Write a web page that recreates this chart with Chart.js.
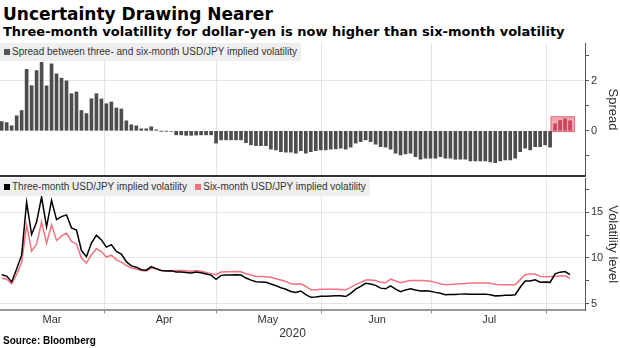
<!DOCTYPE html>
<html>
<head>
<meta charset="utf-8">
<script src="https://cdn.jsdelivr.net/npm/chart.js@4/dist/chart.umd.min.js"></script>
<style>
  body { margin: 0; width: 620px; height: 348px; background: #fff; position: relative; overflow: hidden;
         font-family: 'Liberation Sans', Arial, sans-serif; color: #000; }
  #title { position: absolute; left: 3px; top: 4px; font-family: 'DejaVu Sans', sans-serif; font-size: 17px; font-weight: bold; }
  #subtitle { position: absolute; left: 3px; top: 24px; font-family: 'DejaVu Sans', sans-serif; font-size: 13px; font-weight: bold; }
  #topWrap { position: absolute; left: 0; top: 40px; width: 620px; height: 138px; }
  #bottomWrap { position: absolute; left: 0; top: 178px; width: 620px; height: 163px; }
  .legend { position: absolute; left: 0; background: #efefef; font-size: 10px; color: #333;
            padding: 3px 4px 4px 4px; white-space: nowrap; }
  .sq { display: inline-block; width: 6px; height: 6px; margin-right: 2px; }
  #source { position: absolute; left: 3px; top: 335px; font-size: 10px; font-weight: bold; }
</style>
</head>
<body>
<div id="title">Uncertainty Drawing Nearer</div>
<div id="subtitle">Three-month volatillity for dollar-yen is now higher than six-month volatility</div>
<div id="topWrap"><canvas id="spreadChart"></canvas></div>
<div id="bottomWrap"><canvas id="volChart"></canvas></div>
<div class="legend" style="top:43px"><span class="sq" style="background:#555"></span>Spread between three- and six-month USD/JPY implied volatility</div>
<div class="legend" style="top:178px"><span class="sq" style="background:#000"></span>Three-month USD/JPY implied volatility&nbsp;&nbsp;&nbsp;<span class="sq" style="background:#f4727c"></span>Six-month USD/JPY implied volatility</div>
<div id="source">Source: Bloomberg</div>
<script>
// daily values, one per trading day (early Mar to early Aug 2020)
const spread = [
  0.37, 0.33, 0.20, 0.60, 0.81, 2.45, 1.80, 2.40, 2.73, 1.79,
  2.67, 2.27, 2.10, 1.99, 1.48, 1.55, 0.81, 0.69, 1.28, 1.48,
  1.27, 1.08, 1.15, 0.91, 0.87, 0.40, 0.24, 0.20, 0.08, 0.08,
  0.16, 0.04, -0.01, -0.01, -0.02, -0.16, -0.16, -0.18, -0.18, -0.17,
  -0.16, -0.16, -0.16, -0.49, -0.36, -0.36, -0.36, -0.36, -0.36, -0.47,
  -0.56, -0.59, -0.59, -0.59, -0.73, -0.76, -0.83, -0.85, -0.85, -0.89,
  -0.79, -0.89, -0.83, -0.79, -0.76, -0.76, -0.73, -0.72, -0.69, -0.73,
  -0.65, -0.49, -0.43, -0.36, -0.43, -0.53, -0.63, -0.65, -0.73, -0.89,
  -0.96, -0.92, -0.89, -1.03, -1.13, -1.09, -1.09, -1.09, -1.03, -1.09,
  -1.09, -1.13, -1.13, -1.13, -1.20, -1.20, -1.20, -1.20, -1.24, -1.27,
  -1.20, -1.16, -1.16, -1.09, -0.83, -0.69, -0.76, -0.63, -0.63, -0.56,
  -0.65, 0.28, 0.41, 0.48, 0.40
];
const threeMonth = [
  8.17, 8.03, 7.40, 8.80, 10.31, 16.05, 12.55, 13.90, 16.63, 13.39,
  16.27, 14.17, 14.50, 14.69, 13.28, 13.05, 10.81, 10.14, 11.63, 12.48,
  11.97, 11.18, 11.45, 10.71, 10.42, 9.60, 9.14, 9.00, 8.73, 8.68,
  9.06, 8.84, 8.64, 8.59, 8.60, 8.47, 8.47, 8.42, 8.38, 8.48,
  8.39, 8.26, 8.14, 7.69, 8.11, 8.14, 8.14, 8.18, 8.14, 7.82,
  7.59, 7.41, 7.39, 7.36, 7.17, 6.99, 6.77, 6.60, 6.35, 6.26,
  6.41, 6.01, 5.72, 5.76, 5.84, 5.84, 5.87, 5.88, 5.89, 5.81,
  6.15, 6.61, 6.92, 7.24, 7.17, 7.02, 6.72, 6.65, 6.97, 6.61,
  6.34, 6.53, 6.66, 6.52, 6.42, 6.43, 6.39, 6.26, 6.17, 6.01,
  6.03, 6.04, 6.07, 6.09, 6.07, 6.07, 6.07, 6.07, 6.01, 5.88,
  5.90, 5.94, 5.94, 6.01, 6.82, 7.49, 7.49, 7.62, 7.37, 7.39,
  7.35, 8.28, 8.46, 8.53, 8.20
];
const sixMonth = [
  7.80, 7.70, 7.20, 8.20, 9.50, 13.60, 10.75, 11.50, 13.90, 11.60,
  13.60, 11.90, 12.40, 12.70, 11.80, 11.50, 10.00, 9.45, 10.35, 11.00,
  10.70, 10.10, 10.30, 9.80, 9.55, 9.20, 8.90, 8.80, 8.65, 8.60,
  8.90, 8.80, 8.65, 8.60, 8.62, 8.63, 8.63, 8.60, 8.56, 8.65,
  8.55, 8.42, 8.30, 8.18, 8.47, 8.50, 8.50, 8.54, 8.50, 8.29,
  8.15, 8.00, 7.98, 7.95, 7.90, 7.75, 7.60, 7.45, 7.20, 7.15,
  7.20, 6.90, 6.55, 6.55, 6.60, 6.60, 6.60, 6.60, 6.58, 6.54,
  6.80, 7.10, 7.35, 7.60, 7.60, 7.55, 7.35, 7.30, 7.70, 7.50,
  7.30, 7.45, 7.55, 7.55, 7.55, 7.52, 7.48, 7.35, 7.20, 7.10,
  7.12, 7.17, 7.20, 7.22, 7.27, 7.27, 7.27, 7.27, 7.25, 7.15,
  7.10, 7.10, 7.10, 7.10, 7.65, 8.18, 8.25, 8.25, 8.00, 7.95,
  8.00, 8.00, 8.05, 8.05, 7.80
];

// x axis in trading-day index units
const monthLabels = ['Mar', 'Apr', 'May', 'Jun', 'Jul'];
const monthMids = [10.1, 32.6, 53.4, 75.3, 97.8];
const monthStarts = [20.7, 43.1, 64.2, 86.3, 109.3];
const xMin = -0.34, xMax = 117;

const spreadTicks = [-1, 0, 1, 2, 3];
const volTicks = [5, 7.5, 10, 12.5, 15, 17.5];

// last few bars are highlighted
const highlightFrom = 111;

const GRID = '#e4e4e4';
const CLEAR = 'rgba(0,0,0,0)';

const highlightBox = {
  id: 'highlightBox',
  beforeDatasetsDraw(chart) {
    const { ctx, scales: { x, y } } = chart;
    const vals = spread.slice(highlightFrom);
    const left = x.getPixelForValue(highlightFrom - 0.9);
    const right = x.getPixelForValue(spread.length);
    const top = y.getPixelForValue(Math.max(...vals) + 0.1);
    const bottom = y.getPixelForValue(-0.05);
    ctx.save();
    ctx.fillStyle = '#f5a5b0';
    ctx.strokeStyle = '#e57282';
    ctx.lineWidth = 1;
    ctx.fillRect(left, top, right - left, bottom - top);
    ctx.strokeRect(left + 0.5, top + 0.5, right - left - 1, bottom - top - 1);
    ctx.restore();
  }
};

// right axis: fixed width, no extra padding above/below the plot
function fixY(scale) { scale.width = 35; scale.paddingTop = 0; scale.paddingBottom = 0; }
function fixX(scale) { scale.paddingLeft = 0; scale.paddingRight = 0; }

new Chart(document.getElementById('spreadChart'), {
  type: 'bar',
  data: {
    datasets: [{
      data: spread.map((v, i) => ({ x: i, y: v })),
      backgroundColor: spread.map((v, i) => i >= highlightFrom ? '#c8475d' : '#4d4d4d'),
      barThickness: 3
    }]
  },
  plugins: [highlightBox],
  options: {
    responsive: true,
    maintainAspectRatio: false,
    animation: false,
    layout: { padding: { top: 3, bottom: 2, left: 0, right: 0 } },
    plugins: { legend: { display: false }, tooltip: { enabled: false } },
    scales: {
      x: {
        type: 'linear', min: xMin, max: xMax, offset: false,
        afterBuildTicks: axis => { axis.ticks = monthStarts.map(v => ({ value: v })); },
        afterFit: scale => { fixX(scale); scale.height = 0; },
        ticks: { display: false },
        grid: { color: GRID, drawTicks: false, offset: false },
        border: { color: '#333', width: 2 }
      },
      y: {
        position: 'right', min: -1.8, max: 3.5,
        afterBuildTicks: axis => { axis.ticks = spreadTicks.map(v => ({ value: v })); },
        afterFit: fixY,
        ticks: {
          padding: 2, color: '#333', font: { size: 11, family: 'Liberation Sans' },
          callback: v => v % 2 === 0 ? v : ''
        },
        grid: {
          color: ctx => ctx.tick && ctx.tick.value === 2 ? GRID : CLEAR,
          tickColor: '#555', tickLength: 4
        },
        border: { color: '#555' },
        title: { display: true, text: 'Spread', color: '#333', padding: 0,
                 font: { size: 13, family: 'Liberation Sans' } }
      }
    }
  }
});

const allXTicks = monthStarts.concat(monthMids).sort((a, b) => a - b);

new Chart(document.getElementById('volChart'), {
  type: 'line',
  data: {
    datasets: [
      {
        label: 'Three-month USD/JPY implied volatility',
        data: threeMonth.map((v, i) => ({ x: i, y: v })),
        borderColor: '#000', borderWidth: 1.5, pointRadius: 0, tension: 0
      },
      {
        label: 'Six-month USD/JPY implied volatility',
        data: sixMonth.map((v, i) => ({ x: i, y: v })),
        borderColor: '#f4727c', borderWidth: 1.5, pointRadius: 0, tension: 0
      }
    ]
  },
  options: {
    responsive: true,
    maintainAspectRatio: false,
    animation: false,
    layout: { padding: 0 },
    plugins: { legend: { display: false }, tooltip: { enabled: false } },
    scales: {
      x: {
        type: 'linear', min: xMin, max: xMax,
        afterBuildTicks: axis => { axis.ticks = allXTicks.map(v => ({ value: v })); },
        afterFit: fixX,
        ticks: {
          autoSkip: false, maxRotation: 0, padding: 0, color: '#333',
          font: { size: 11, family: 'Liberation Sans' },
          callback: v => { const k = monthMids.indexOf(v); return k >= 0 ? monthLabels[k] : ''; }
        },
        grid: {
          color: ctx => ctx.tick && monthMids.includes(ctx.tick.value) ? CLEAR : GRID,
          tickColor: ctx => ctx.tick && monthMids.includes(ctx.tick.value) ? CLEAR : '#888',
          tickLength: 3
        },
        border: { color: '#999', width: 2 },
        title: { display: true, text: '2020', color: '#333', padding: 0,
                 font: { size: 12, family: 'Liberation Sans' } }
      },
      y: {
        position: 'right', min: 4.3, max: 18.7,
        afterBuildTicks: axis => { axis.ticks = volTicks.map(v => ({ value: v })); },
        afterFit: fixY,
        ticks: {
          padding: 2, color: '#333', font: { size: 11, family: 'Liberation Sans' },
          callback: v => v % 5 === 0 ? v : ''
        },
        grid: {
          color: ctx => ctx.tick && ctx.tick.value % 5 === 0 ? GRID : CLEAR,
          tickColor: '#555', tickLength: 4
        },
        border: { color: '#555' },
        title: { display: true, text: 'Volatility level', color: '#333', padding: 0,
                 font: { size: 13, family: 'Liberation Sans' } }
      }
    }
  }
});
</script>
</body>
</html>
